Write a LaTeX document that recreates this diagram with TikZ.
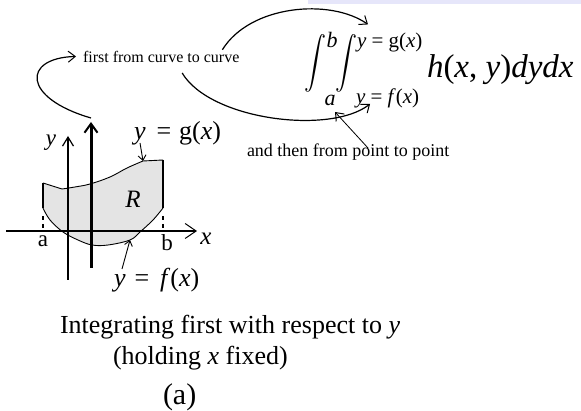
\documentclass[tikz,border=0pt]{standalone}
\usepackage{fontspec}
\setmainfont{Liberation Serif}
\usepackage{graphicx}
\usetikzlibrary{arrows.meta}
\definecolor{lav}{RGB}{230,230,250}
\definecolor{regfill}{RGB}{228,228,228}
\newcommand{\myfs}[1]{\fontsize{#1}{#1}\selectfont}
\begin{document}
\begin{tikzpicture}[x=1pt,y=-1pt,
  lbl/.style={inner sep=0pt, outer sep=0pt},
  thinbarb/.style={-{Straight Barb[length=7pt,width=11pt,line width=1pt]}},
  smallbarb/.style={-{Straight Barb[length=5pt,width=8pt,line width=0.9pt]}},
  curvearrow/.style={line width=1.2pt, thinbarb},
  axis/.style={line width=1.8pt, -{Straight Barb[length=11pt,width=15pt,line width=1pt]}},
  yaxis/.style={line width=1.8pt, -{Straight Barb[length=9pt,width=11pt,line width=1.2pt]}},
  thickarrow/.style={line width=3pt, -{Straight Barb[length=9pt,width=13pt,line width=2pt]}},
  side/.style={line width=2pt},
  bdry/.style={line width=0.9pt},
  dashside/.style={line width=2pt, dash pattern=on 4pt off 4pt}
]
\useasboundingbox (0,0) rectangle (581,411);
\fill[lav] (308,0) rectangle (581,4);

% region R
\fill[regfill] (43,183) -- plot[smooth, tension=0.6] coordinates {(62,189) (75,187) (90,184) (110,177) (127,168) (143,161)} -- (163,160) -- (163,208)
  -- plot[smooth, tension=0.6] coordinates {(153,220) (140,232) (130,240) (108,245) (92,245) (78,240) (63,232) (50,220) (43,208)} -- cycle;
\draw[bdry] (43,183) -- plot[smooth, tension=0.6] coordinates {(62,189) (75,187) (90,184) (110,177) (127,168) (143,161)} -- (163,160);
\draw[bdry] plot[smooth, tension=0.6] coordinates {(43,208) (50,220) (63,232) (78,240) (92,245) (108,245) (130,240) (140,232) (153,220) (163,208)};
\draw[side] (43,183) -- (43,208);
\draw[side] (163,160) -- (163,208);
\draw[dashside] (43,216) -- (43,231);
\draw[dashside] (163,216) -- (163,231);
\coordinate (gpt) at (143,161);
\coordinate (fpt) at (130,240);

% axes
\coordinate (xs) at (6,231); \coordinate (xe) at (197,231);
\coordinate (ys) at (68,280); \coordinate (ye) at (68,136);
\coordinate (ts) at (91,268); \coordinate (te) at (91,122);
\draw[axis] (xs) -- (xe);
\draw[yaxis] (ys) -- (ye);
\draw[thickarrow] (ts) -- (te);

% graph labels
\node[lbl] (ylab) at (51,143) {\myfs{23}\textit{y}};
\node[lbl] (xlab) at (206,239) {\myfs{25}\textit{x}};
\node[lbl, anchor=base] (alab) at (43,247) {\myfs{23}a};
\node[lbl, anchor=base] (blab) at (167,251) {\myfs{23}b};
\node[lbl] (Rlab) at (133,199) {\myfs{25}\textit{R}};
\node[lbl, anchor=base west] (glab) at (134,140) {\myfs{26}\textit{y}\hspace{11pt}=\hspace{8pt}g(\textit{x})};
\node[lbl, anchor=base west] (flab) at (114,287) {\myfs{26}\textit{y}\hspace{9pt}=\hspace{11pt}\textit{f}(\textit{x})};
\draw[smallbarb, line width=0.9pt] ([xshift=6pt,yshift=-3pt]glab.base west) -- (gpt);
\draw[smallbarb, line width=0.9pt] ([xshift=8pt,yshift=18pt]flab.base west) -- (fpt);

% formula
\node[lbl] (int1) at (315,63) {\scalebox{2.2}[2.6]{$\displaystyle\int$}};
\node[lbl] (int2) at (346,63) {\scalebox{2.2}[2.6]{$\displaystyle\int$}};
\node[lbl] (ub) at (332,40) {\myfs{22}\textit{b}};
\node[lbl] (lb) at (330,100) {\myfs{22}\textit{a}};
\node[lbl, anchor=base west] (glim) at (357,48) {\myfs{21}\textit{y} = g(\textit{x})};
\node[lbl, anchor=base west] (flim) at (356,104) {\myfs{21}\textit{y} = \textit{f}(\textit{x})};
\node[lbl, anchor=base west] (hexpr) at (427,78) {\myfs{33}\textit{h}(\textit{x}, \textit{y})\textit{dydx}};

% texts
\node[lbl, anchor=base west] (first) at (83,63) {\myfs{16}first from curve to curve};
\node[lbl, anchor=base west] (then) at (247,157) {\myfs{18}and then from point to point};
\node[lbl, anchor=base west] (cap1) at (60,334) {\myfs{26}Integrating first with respect to \textit{y}};
\node[lbl, anchor=base west] (cap2) at (113,365) {\myfs{26}(holding \textit{x} fixed)};
\node[lbl, anchor=base west] (capa) at (163,405) {\myfs{30}(a)};

% curved connectors
\draw[curvearrow] ([yshift=4pt]te) .. controls (22,98) and (22,58) .. ([xshift=-7pt,yshift=1pt]first.west);
\draw[curvearrow] ([xshift=-17pt,yshift=2pt]first.north east) .. controls (250,5) and (330,-2) .. ([xshift=11pt,yshift=9pt]glim.north west);
\draw[curvearrow] ([xshift=21pt,yshift=-10pt]first.base west -| first.south) .. controls (210,120) and (330,135) .. ([xshift=14pt,yshift=0pt]flim.base west);
\draw[line width=0.8pt, thinbarb] ([xshift=121pt,yshift=9pt]then.base west) -- ([xshift=5pt,yshift=-12pt]lb.center);
\end{tikzpicture}
\end{document}
